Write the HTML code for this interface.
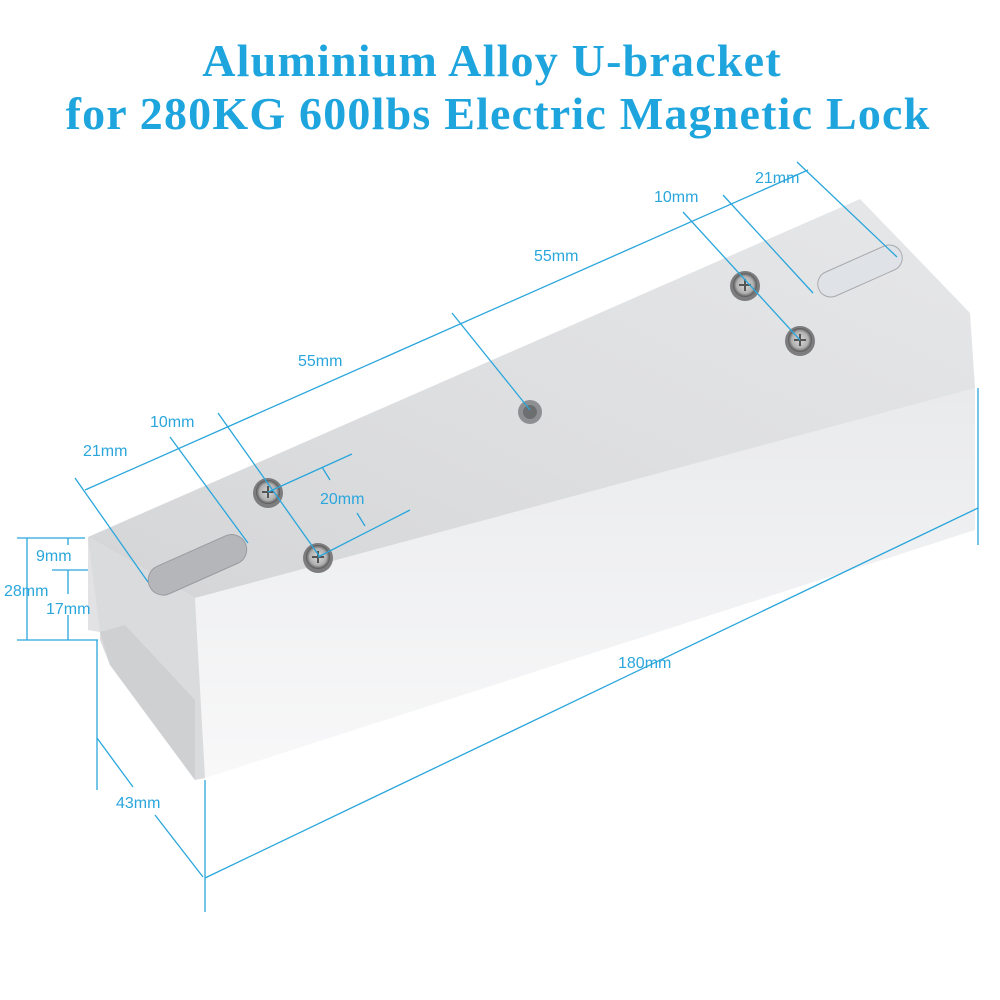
<!DOCTYPE html>
<html><head><meta charset="utf-8"><style>
html,body{margin:0;padding:0;background:#fff;}
svg{display:block}
.t{font-family:"Liberation Serif",serif;font-weight:bold;fill:#1ea5dd;font-size:46px;text-anchor:middle;letter-spacing:1.2px}
.l{font-family:"Liberation Sans",sans-serif;fill:#2aa6dc;font-size:16px}
</style></head><body>
<svg width="1000" height="1000" viewBox="0 0 1000 1000">
<defs>
<linearGradient id="top" x1="0" y1="1" x2="1" y2="0">
<stop offset="0" stop-color="#d4d5d7"/><stop offset="0.5" stop-color="#dedfe1"/><stop offset="1" stop-color="#e6e7e9"/></linearGradient>
<linearGradient id="front" x1="0" y1="0" x2="0" y2="1">
<stop offset="0" stop-color="#e9eaec"/><stop offset="1" stop-color="#f8f8f9"/></linearGradient>
<radialGradient id="scr"><stop offset="0" stop-color="#d8d8d8"/><stop offset="0.7" stop-color="#b0b0b0"/><stop offset="1" stop-color="#555"/></radialGradient>
</defs>
<text class="t" x="492" y="76">Aluminium Alloy U-bracket</text>
<text class="t" x="498" y="129">for 280KG 600lbs Electric Magnetic Lock</text>

<polygon points="195,598 975,385 975,530 205,778" fill="url(#front)"/>
<polygon points="88,537 195,598 205,778 195,780 110,665 100,640 100,632 88,630" fill="#dadbdd"/>
<polygon points="100,632 125,625 195,700 195,780 110,665" fill="#cfd0d2"/>
<polygon points="88,537 100,632 88,630" fill="#e2e2e4"/>
<polygon points="88,537 860,199 970,313 975,388 195,598" fill="url(#top)"/>
<rect x="145" y="550" width="105" height="30" rx="15" transform="rotate(-24 197 565)" fill="#b5b6b9" stroke="#9a9b9e"/>
<rect x="815" y="258" width="90" height="26" rx="13" transform="rotate(-24 860 271)" fill="#dfe2e6" stroke="#a8a9ac"/>
<circle cx="530" cy="412" r="12" fill="#8e8f92"/><circle cx="530" cy="412" r="7" fill="#6d6e70"/>
<g>
<circle cx="268" cy="493" r="15" fill="#7d7d80"/><circle cx="268" cy="492" r="12" fill="url(#scr)"/>
<circle cx="318" cy="558" r="15" fill="#7d7d80"/><circle cx="318" cy="557" r="12" fill="url(#scr)"/>
<circle cx="745" cy="286" r="15" fill="#7d7d80"/><circle cx="745" cy="285" r="12" fill="url(#scr)"/>
<circle cx="800" cy="341" r="15" fill="#7d7d80"/><circle cx="800" cy="340" r="12" fill="url(#scr)"/>
</g>
<g stroke="#555" stroke-width="2">
<path d="M262 492h12M268 486v12M312 557h12M318 551v12M739 285h12M745 279v12M794 340h12M800 334v12"/>
</g>

<g stroke="#2aa6dc" stroke-width="1.3" fill="none">
<line x1="85" y1="490" x2="808" y2="170"/>
<line x1="75" y1="478" x2="148" y2="582"/>
<line x1="170" y1="437" x2="248" y2="543"/>
<line x1="218" y1="413" x2="320" y2="557"/>
<line x1="452" y1="313" x2="530" y2="410"/>
<line x1="683" y1="212" x2="800" y2="340"/>
<line x1="723" y1="195" x2="813" y2="293"/>
<line x1="797" y1="162" x2="897" y2="257"/>
<line x1="268" y1="492" x2="352" y2="454"/>
<line x1="318" y1="557" x2="410" y2="510"/>
<line x1="322" y1="467" x2="330" y2="480"/>
<line x1="357" y1="513" x2="365" y2="526"/>
<line x1="205" y1="780" x2="205" y2="912"/>
<line x1="978" y1="388" x2="978" y2="545"/>
<line x1="205" y1="878" x2="978" y2="508"/>
<line x1="97" y1="640" x2="97" y2="790"/>
<line x1="97" y1="738" x2="133" y2="787"/>
<line x1="155" y1="815" x2="203" y2="877"/>
<line x1="27" y1="538" x2="27" y2="640"/>
<line x1="17" y1="538" x2="85" y2="538"/>
<line x1="17" y1="640" x2="98" y2="640"/>
<line x1="52" y1="570" x2="88" y2="570"/>
<line x1="68" y1="538" x2="68" y2="545"/>
<line x1="68" y1="570" x2="68" y2="594"/>
<line x1="68" y1="615" x2="68" y2="640"/>
</g>
<text class="l" x="755" y="183">21mm</text>
<text class="l" x="654" y="202">10mm</text>
<text class="l" x="534" y="261">55mm</text>
<text class="l" x="298" y="366">55mm</text>
<text class="l" x="150" y="427">10mm</text>
<text class="l" x="83" y="456">21mm</text>
<text class="l" x="320" y="504">20mm</text>
<text class="l" x="36" y="561">9mm</text>
<text class="l" x="4" y="596">28mm</text>
<text class="l" x="46" y="614">17mm</text>
<text class="l" x="618" y="668">180mm</text>
<text class="l" x="116" y="808">43mm</text>
</svg>
</body></html>
